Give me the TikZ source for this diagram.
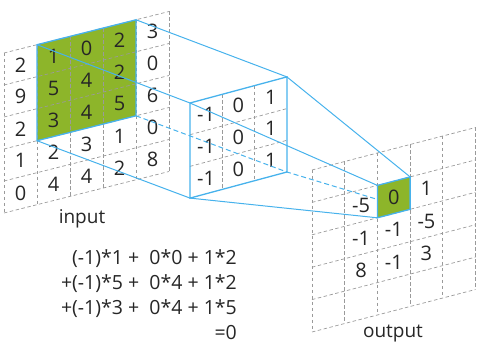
\documentclass[tikz,border=0pt]{standalone}
\usepackage{fontspec}
\setmainfont{Open Sans}
\usetikzlibrary{positioning,calc}
\definecolor{cvblue}{HTML}{47B2EC}
\definecolor{cvgreen}{HTML}{8DB52A}
\definecolor{cvgray}{HTML}{9A9A9A}
\tikzset{
  cvgrid/.style={draw=cvgray, line width=0.7pt, dash pattern=on 3.5pt off 2.5pt},
  cvnum/.style={font=\fontsize{20}{22}\selectfont, inner sep=0pt, text=black!85},
  cvray/.style={draw=cvblue, line width=1pt},
  cvhid/.style={cvray, dash pattern=on 5pt off 3pt},
  cvedge/.style={draw=cvblue, line width=1.3pt},
  cvcell/.style={fill=cvgreen, draw=cvblue, line width=1.3pt},
  cvlbl/.style={font=\fontsize{19}{22}\selectfont, text=black!85},
  cvsum/.style={font=\fontsize{19.5}{25}\selectfont, align=right, anchor=north east,
    inner sep=0pt, text=black!85},
}

\begin{document}
\begin{tikzpicture}[x=1pt, y=-1pt]
\useasboundingbox (0,0) rectangle (490,352);

%% input
\begin{scope}[shift={(4,53)}, x={(33pt,8.3pt)}, y={(0pt,-32pt)}]
  \fill[cvgreen] (1,0) -- (4,0) -- (4,3) -- (1,3) -- cycle;
  \foreach \i in {0,...,5} {
    \draw[cvgrid] (\i,0) -- (\i,5);
    \draw[cvgrid] (0,\i) -- (5,\i);
  }
  \draw[cvedge] (1,0) -- (4,0) -- (4,3) -- (1,3) -- cycle;
  \coordinate (iTL) at (1,0);
  \coordinate (iTR) at (4,0);
  \coordinate (iBR) at (4,3);
  \coordinate (iBL) at (1,3);
  \foreach \row [count=\r from 0] in {{2,1,0,2,3},{9,5,4,2,0},{2,3,4,5,6},{1,2,3,1,0},{0,4,4,2,8}}
    \foreach \v [count=\c from 0] in \row
      \node[cvnum] (in\r\c) at (\c+0.5,\r+0.5) {\v};
\end{scope}

%% kernel
\begin{scope}[shift={(190,103)}, x={(32.3pt,8.7pt)}, y={(0pt,-31.7pt)}]
  \foreach \i in {1,2} {
    \draw[cvgrid] (\i,0) -- (\i,3);
    \draw[cvgrid] (0,\i) -- (3,\i);
  }
  \draw[cvedge] (0,0) -- (3,0) -- (3,3) -- (0,3) -- cycle;
  \coordinate (kTL) at (0,0);
  \coordinate (kTR) at (3,0);
  \coordinate (kBR) at (3,3);
  \coordinate (kBL) at (0,3);
  \foreach \r in {0,1,2} {
    \node[cvnum] (kr\r a) at (0.5,\r+0.5) {-1};
    \node[cvnum] (kr\r b) at (1.5,\r+0.5) {0};
    \node[cvnum] (kr\r c) at (2.5,\r+0.5) {1};
  }
\end{scope}

%% output
\begin{scope}[shift={(312,170)}, x={(32.7pt,8.5pt)}, y={(0pt,-32.4pt)}]
  \foreach \i in {0,...,5} {
    \draw[cvgrid] (\i,0) -- (\i,5);
    \draw[cvgrid] (0,\i) -- (5,\i);
  }
  \coordinate (oTL) at (2,1);
  \coordinate (oTR) at (3,1);
  \coordinate (oBR) at (3,2);
  \coordinate (oBL) at (2,2);
  \coordinate (oMid) at (2.5,1.5);
  \node[cvnum] (out11) at (1.5,1.5) {-5};
  \node[cvnum] (out13) at (3.5,1.5) {1};
  \node[cvnum] (out21) at (1.5,2.5) {-1};
  \node[cvnum] (out22) at (2.5,2.5) {-1};
  \node[cvnum] (out23) at (3.5,2.5) {-5};
  \node[cvnum] (out31) at (1.5,3.5) {8};
  \node[cvnum] (out32) at (2.5,3.5) {-1};
  \node[cvnum] (out33) at (3.5,3.5) {3};
\end{scope}

%% rays
\draw[cvray] (iTL) -- (kTL) -- (oTL);
\draw[cvray] (iTR) -- (kTR) -- (oTR);
\draw[cvray] (iBL) -- (kBL) -- (oBL);
\draw[cvhid] (iBR) -- (kBR) -- (oBR);

\draw[cvcell] (oTL) -- (oTR) -- (oBR) -- (oBL) -- cycle;
\node[cvnum] (out12) at (oMid) {0};

\node[cvlbl] (lin)  at (82,219) {input};
\node[cvlbl] (lout) at (393,334) {output};

\node[cvsum] (sum) at (237,249)
  {(-1)*1 +\ \ 0*0 + 1*2\\+(-1)*5 +\ \ 0*4 + 1*2\\+(-1)*3 +\ \ 0*4 + 1*5\\=0};

\end{tikzpicture}
\end{document}
